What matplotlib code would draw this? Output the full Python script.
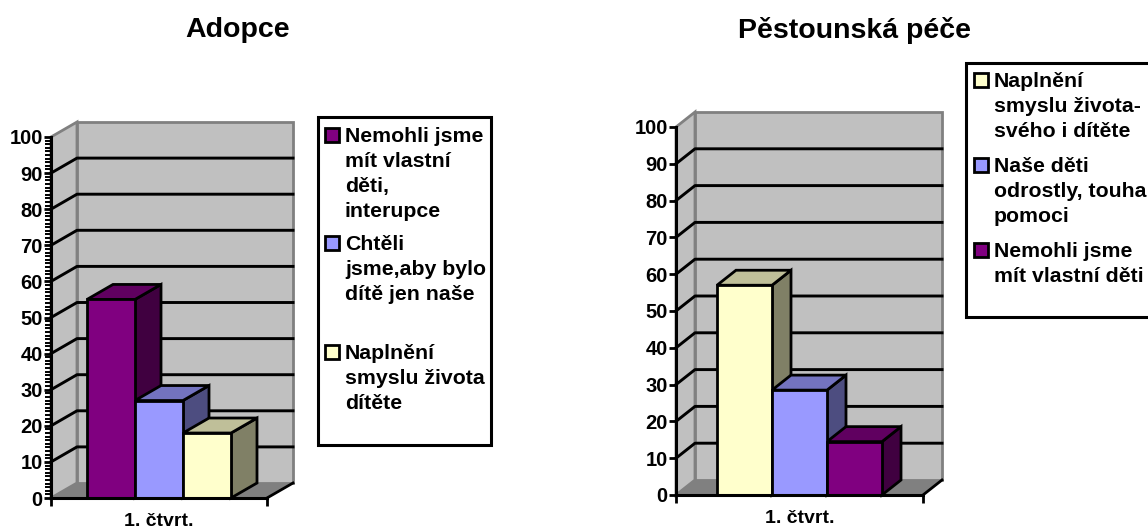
import matplotlib
matplotlib.use("Agg")
import matplotlib.pyplot as plt
from matplotlib.patches import Polygon, Rectangle
from matplotlib.ticker import MultipleLocator

plt.rcParams['font.family'] = ['Liberation Sans', 'DejaVu Sans']
plt.rcParams['font.weight'] = 'bold'

W, H = 1148, 529

# data
quarter_label = "1. čtvrt."
y_ticks = [0, 10, 20, 30, 40, 50, 60, 70, 80, 90, 100]

adopce_title = "Adopce"
adopce_values = [55, 27, 18]
adopce_colors = ["#800080", "#9999FF", "#FFFFCC"]
adopce_labels = ["Nemohli jsme\nmít vlastní\nděti,\ninterupce",
                 "Chtěli\njsme,aby bylo\ndítě jen naše",
                 "Naplnění\nsmyslu života\ndítěte"]

pestoun_title = "Pěstounská péče"
pestoun_values = [57, 28.5, 14.5]
pestoun_colors = ["#FFFFCC", "#9999FF", "#800080"]
pestoun_labels = ["Naplnění\nsmyslu života-\nsvého i dítěte",
                  "Naše děti\nodrostly, touha\npomoci",
                  "Nemohli jsme\nmít vlastní děti"]


def darker(color, f):
    r, g, b = matplotlib.colors.to_rgb(color)
    return (r * f, g * f, b * f)


def chart(box, values, colors, bar_start, bar_w, depth, minor):
    # box is left, top (value 100), right, bottom (value 0) in pixels
    x0, y100, x1, y0 = box
    ax = fig.add_axes([x0 / W, 1 - y0 / H, (x1 - x0) / W, (y0 - y100) / H])
    ax.set_xlim(0, 1)
    ax.set_ylim(0, 100)
    ax.patch.set_visible(False)
    dx = depth[0] / (x1 - x0)
    dy = depth[1] / (y0 - y100) * 100

    wall = "#C0C0C0"
    edge = "#808080"
    side = Polygon([(0, 0), (dx, dy), (dx, 100 + dy), (0, 100)], fc=wall, ec=edge, lw=2, zorder=1, clip_on=False)
    back = Rectangle((dx, dy), 1, 100, fc=wall, ec=edge, lw=2, zorder=1, clip_on=False)
    floor = Polygon([(0, 0), (1, 0), (1 + dx, dy), (dx, dy)], fc=edge, ec="none", zorder=1, clip_on=False)
    ax.add_patch(side)
    ax.add_patch(back)
    ax.add_patch(floor)
    ax.plot([1, 1 + dx], [0, dy], color="black", lw=2, zorder=2, clip_on=False)

    for t in y_ticks[1:-1]:
        ax.plot([0, dx, 1 + dx], [t, t + dy, t + dy], color="black", lw=2.1, zorder=2, clip_on=False)

    pos = bar_start
    for v, c in zip(values, colors):
        p = pos + bar_w
        ax.add_patch(Polygon([(p, 0), (p + dx, dy), (p + dx, v + dy), (p, v)], fc=darker(c, 0.5), ec="black", lw=2, zorder=3, clip_on=False))
        ax.add_patch(Polygon([(pos, v), (p, v), (p + dx, v + dy), (pos + dx, v + dy)], fc=darker(c, 0.75), ec="black", lw=2, zorder=3, clip_on=False))
        ax.add_patch(Rectangle((pos, 0), bar_w, v, fc=c, ec="black", lw=2, zorder=4, clip_on=False))
        pos = p

    for s in ["top", "right"]:
        ax.spines[s].set_visible(False)
    for s in ["left", "bottom"]:
        ax.spines[s].set_linewidth(2.2)
        ax.spines[s].set_zorder(5)
    ax.set_yticks(y_ticks)
    ax.tick_params(axis='y', which='major', length=5, width=2, labelsize=14.5, pad=1)
    if minor:
        ax.yaxis.set_minor_locator(MultipleLocator(1))
        ax.tick_params(axis='y', which='minor', length=4, width=1.4)
    ax.set_xticks([0, 1])
    ax.set_xticklabels([])
    ax.tick_params(axis='x', which='major', length=6, width=2)
    ax.set_xticks([0.5], [quarter_label], minor=True)
    ax.tick_params(axis='x', which='minor', length=0, labelsize=14, pad=11)
    return ax


def legend(box, labels, colors, text_x, ys):
    # legend frame and entries, all in pixels from the top left of the figure
    x0, y0, x1, y1 = box
    fig.add_artist(Rectangle((x0 / W, 1 - y1 / H), (x1 - x0) / W, (y1 - y0) / H, fc="white", ec="black", lw=2.2, transform=fig.transFigure))
    for label, c, y in zip(labels, colors, ys):
        fig.add_artist(Rectangle(((text_x - 20) / W, 1 - (y + 7) / H), 14 / W, 14 / H, fc=c, ec="black", lw=2, transform=fig.transFigure))
        fig.text(text_x / W, 1 - (y - 8) / H, label, fontsize=15.3, va='top', ha='left', linespacing=1.41)


fig = plt.figure(figsize=(W / 100, H / 100), dpi=100)

chart((51, 137, 267, 498), adopce_values, adopce_colors, 36 / 216, 48 / 216, (26, 15), True)
chart((676, 127, 923, 495), pestoun_values, pestoun_colors, 41 / 247, 55 / 247, (19, 15), False)

fig.text(238 / W, 1 - 30 / H, adopce_title, fontsize=20.5, ha='center', va='center')
fig.text(855 / W, 1 - 30 / H, pestoun_title, fontsize=20.5, ha='center', va='center')

legend((318, 117, 491, 445), adopce_labels, adopce_colors, 345, [135, 243, 352])
legend((966, 63, 1160, 317), pestoun_labels, pestoun_colors, 994, [80, 165, 250])

fig.savefig("out.png", dpi=100)
